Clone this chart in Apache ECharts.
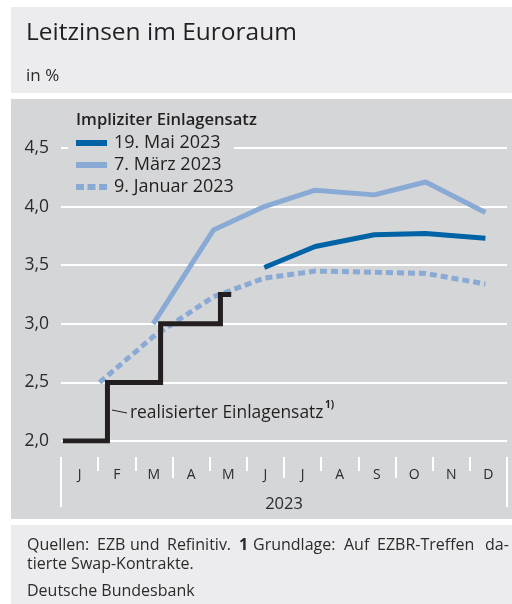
<!DOCTYPE html>
<html><head><meta charset="utf-8">
<script src="https://cdn.jsdelivr.net/npm/echarts@6/dist/echarts.min.js"></script>
<style>html,body{margin:0;padding:0;background:#fff}#c{width:512px;height:604px}</style>
</head><body><div id="c"></div>
<script>
const months = ['J','F','M','A','M','J','J','A','S','O','N','D'];
// realized deposit rate (x = months since 1 Jan 2023)
const realizedX = [0.05, 1.25, 2.68, 4.29, 4.58];
const realizedY = [2.00, 2.50, 3.00, 3.25, 3.25];
// ECB meeting dates (months since 1 Jan 2023)
const meetingX = [1.04, 2.48, 4.10, 5.47, 6.84, 8.43, 9.81, 11.42];
const mayValues = [null, null, null, 3.48, 3.66, 3.76, 3.77, 3.73];
const marValues = [null, 3.00, 3.80, 4.00, 4.14, 4.10, 4.21, 3.95];
const janValues = [2.50, 2.89, 3.23, 3.39, 3.45, 3.44, 3.43, 3.34];
const seriesNames = ['19. Mai 2023', '7. März 2023', '9. Januar 2023'];

const FONT = 'Open Sans';
const DARK = '#0063a5', LIGHT = '#89aad5', BLACK = '#231f20', TXT = '#2b2b2b';

function pairs(xs, ys){ const out=[]; xs.forEach((x,i)=>{ if(ys[i]!=null) out.push([x, ys[i]]); }); return out; }

const chart = echarts.init(document.getElementById('c'), null, {renderer:'canvas'});
const footerWords = [
  ['Quellen:', 27, false], ['EZB', 97, false], ['und', 130, false], ['Refinitiv.', 167, false],
  ['1', 239, true], ['Grundlage:', 253, false], ['Auf', 344, false], ['EZBR-Treffen', 377, false], ['da-', 485, false]
];
const graphics = [
  {type:'rect', shape:{x:11,y:7,width:501,height:86}, style:{fill:'#ececee'}, z:-10, silent:true},
  {type:'rect', shape:{x:11,y:99,width:501,height:420}, style:{fill:'#d5d6d8'}, z:-10, silent:true},
  {type:'rect', shape:{x:11,y:525,width:501,height:79}, style:{fill:'#ececee'}, z:-10, silent:true},
  {type:'text', x:26, y:33, style:{text:'Leitzinsen im Euroraum', font:'24.5px "'+FONT+'"', fill:BLACK, verticalAlign:'middle'}},
  {type:'text', x:26, y:76, style:{text:'in %', font:'17px "'+FONT+'"', fill:TXT, verticalAlign:'middle'}},
  {type:'text', x:76, y:120, z:10, style:{text:'Impliziter Einlagensatz', font:'600 16.6px "'+FONT+'"', fill:BLACK, verticalAlign:'middle'}},
  {type:'line', shape:{x1:112,y1:410,x2:127,y2:413}, style:{stroke:BLACK, lineWidth:1}, z:10},
  {type:'text', x:130, y:413, z:10, style:{text:'realisierter Einlagensatz', font:'500 17.4px "'+FONT+'"', fill:BLACK, verticalAlign:'middle'}},
  {type:'text', x:325, y:405, z:10, style:{text:'1)', font:'bold 10px "'+FONT+'"', fill:BLACK, verticalAlign:'middle'}},
  {type:'text', x:27, y:564, style:{text:'tierte Swap-Kontrakte.', font:'16px "'+FONT+'"', fill:TXT, verticalAlign:'middle'}},
  {type:'text', x:27, y:591, style:{text:'Deutsche Bundesbank', font:'16px "'+FONT+'"', fill:TXT, verticalAlign:'middle'}}
];
footerWords.forEach(w=>graphics.push({type:'text', x:w[1], y:545, style:{text:w[0], font:(w[2]?'bold ':'')+'16px "'+FONT+'"', fill:TXT, verticalAlign:'middle'}}));

const option = {
  animation:false,
  textStyle:{fontFamily:FONT},
  grid:{left:61, right:5, top:148, bottom:163, containLabel:false},
  legend:{
    orient:'vertical', left:68, top:132, padding:[2,0,2,8], itemGap:4,
    backgroundColor:'#d5d6d8', itemWidth:31, itemHeight:6,
    textStyle:{fontSize:18, color:BLACK, fontFamily:FONT, padding:[0,0,0,2]},
    itemStyle:{borderWidth:0},
    data:[
      {name:seriesNames[0], icon:'rect', itemStyle:{color:DARK}},
      {name:seriesNames[1], icon:'rect', itemStyle:{color:LIGHT}},
      {name:seriesNames[2], icon:'path://M0,0h8v6h-8z M11.5,0h8v6h-8z M23,0h8v6h-8z', itemStyle:{color:LIGHT}}
    ],
    selectedMode:false, z:5
  },
  xAxis:[
    {type:'value', min:0, max:12, interval:12, position:'bottom', offset:16,
     axisLine:{show:false}, axisLabel:{show:false}, splitLine:{show:false},
     axisTick:{show:true, length:50, lineStyle:{color:'#fff', width:2}},
     name:'2023', nameLocation:'middle', nameGap:39,
     nameTextStyle:{fontSize:16.5, color:TXT, fontFamily:FONT}},
    {type:'category', data:months, boundaryGap:true, position:'bottom', offset:16,
     axisLine:{show:false}, splitLine:{show:false},
     axisTick:{show:true, interval:0, length:14, lineStyle:{color:'#fff', width:2}},
     axisLabel:{fontSize:14, color:TXT, margin:11, interval:0, fontFamily:FONT}},
    {type:'value', min:0, max:12, interval:3, position:'bottom', offset:16,
     axisLine:{show:false}, axisLabel:{show:false}, splitLine:{show:false},
     axisTick:{show:true, length:21, lineStyle:{color:'#fff', width:2}}}
  ],
  yAxis:{type:'value', min:2, max:4.5, interval:0.5,
    axisLine:{show:false}, axisTick:{show:false},
    splitLine:{lineStyle:{color:'#fff', width:2}},
    axisLabel:{fontSize:17.5, color:TXT, margin:12, fontFamily:FONT,
      formatter:v=>v.toFixed(1).replace('.',',')}},
  series:[
    {name:seriesNames[2], type:'line', xAxisIndex:0, data:pairs(meetingX, janValues), showSymbol:false, color:LIGHT,
     lineStyle:{color:LIGHT, width:5, type:[7,4], cap:'butt'}, z:2},
    {name:seriesNames[1], type:'line', xAxisIndex:0, data:pairs(meetingX, marValues), showSymbol:false, color:LIGHT,
     lineStyle:{color:LIGHT, width:5}, z:3},
    {name:seriesNames[0], type:'line', xAxisIndex:0, data:pairs(meetingX, mayValues), showSymbol:false, color:DARK,
     lineStyle:{color:DARK, width:5}, z:4},
    {name:'realisierter Einlagensatz', type:'line', xAxisIndex:0, step:'end', data:pairs(realizedX, realizedY), showSymbol:false, color:BLACK,
     lineStyle:{color:BLACK, width:5, join:'miter'}, z:5}
  ],
  graphic:graphics
};
chart.setOption(option);
</script></body></html>
